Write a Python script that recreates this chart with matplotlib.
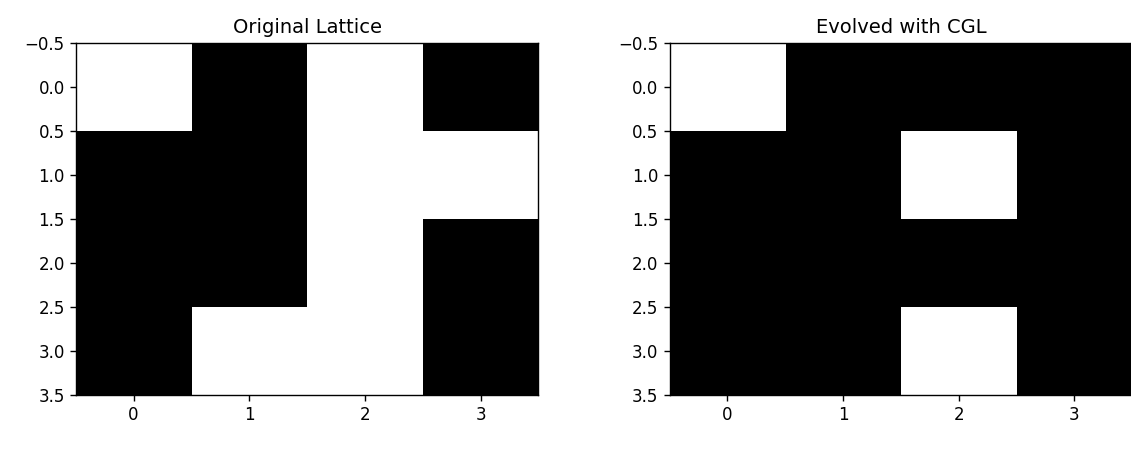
import numpy as np
import matplotlib
matplotlib.use("Agg")
import matplotlib.pyplot as plt

# 1 = blanco, 0 = negro
original = [[1, 0, 1, 0],
            [0, 0, 1, 1],
            [0, 0, 1, 0],
            [0, 1, 1, 0]]
evolved = [[1, 0, 0, 0],
           [0, 0, 1, 0],
           [0, 0, 0, 0],
           [0, 0, 1, 0]]
titles = ['Original Lattice', 'Evolved with CGL']

fig = plt.figure(figsize=(11.31, 4.5), dpi=100)
ax1 = fig.add_axes([0.067, 0.122, 0.409, 0.782])
# el panel derecho queda recortado por el borde de la imagen
ax2 = fig.add_axes([0.592, 0.122, 0.409, 0.782])

for ax, grid, title in zip([ax1, ax2], [original, evolved], titles):
    ax.imshow(np.array(grid), cmap='gray', aspect='auto', interpolation='nearest')
    ax.set_title(title, fontsize=14, pad=7)
    ax.set_xticks([0, 1, 2, 3])
    ax.set_yticks(np.arange(-0.5, 3.6, 0.5))
    ax.tick_params(labelsize=12, length=4.5, width=1)
    for s in ax.spines.values():
        s.set_linewidth(1)

fig.savefig('out.png', dpi=100)
